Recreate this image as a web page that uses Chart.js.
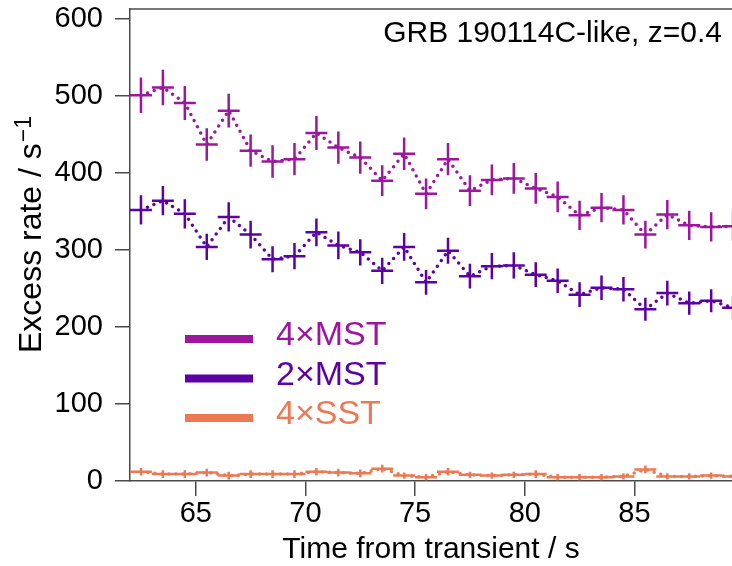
<!DOCTYPE html>
<html lang="en">
<head>
<meta charset="UTF-8" />
<title>GRB 190114C-like excess rate</title>
<script src="https://cdn.jsdelivr.net/npm/chart.js"></script>
<style>
  html, body { margin: 0; padding: 0; background: #ffffff; }
  #wrap { width: 732px; height: 566px; }
</style>
</head>
<body>
<div id="wrap"><canvas id="chart" width="732" height="566"></canvas></div>
<script>
  // bin centres, s (1 s bins)
  const times = [62.5, 63.5, 64.5, 65.5, 66.5, 67.5, 68.5, 69.5, 70.5, 71.5, 72.5, 73.5, 74.5, 75.5,
                 76.5, 77.5, 78.5, 79.5, 80.5, 81.5, 82.5, 83.5, 84.5, 85.5, 86.5, 87.5, 88.5, 89.5];
  const binWidth = 1;

  const mst4 = [501, 511, 491, 437, 481, 429, 415, 418, 452, 433, 420, 390, 425, 373,
                418, 377, 391, 393, 380, 369, 345, 355, 352, 320, 346, 332, 330, 331];
  const mst4Err = [23, 23, 22, 21, 22, 21, 21, 21, 22, 21, 21, 20, 21, 20,
                   21, 20, 20, 20, 20, 20, 19, 19, 19, 18, 19, 19, 19, 19];

  const mst2 = [352, 364, 347, 304, 343, 320, 288, 292, 323, 306, 297, 273, 304, 258,
                299, 266, 279, 280, 268, 260, 242, 251, 249, 223, 244, 231, 234, 225];
  const mst2Err = [19, 19, 19, 17, 19, 18, 17, 17, 18, 18, 17, 17, 18, 16,
                   17, 16, 17, 17, 16, 16, 16, 16, 16, 15, 16, 15, 15, 15];

  const sst4 = [12, 9, 9, 11, 7, 9, 9, 9, 12, 11, 10, 16, 7, 5,
                12, 8, 7, 8, 9, 5, 5, 5, 6, 15, 6, 6, 7, 6];
  const sst4Err = [5, 5, 5, 5, 5, 5, 5, 5, 5, 5, 5, 5, 4, 4,
                   5, 4, 4, 4, 5, 4, 4, 4, 4, 5, 4, 4, 4, 4];

  const xTicks = [65, 70, 75, 80, 85];
  const yTicks = [0, 100, 200, 300, 400, 500, 600];

  const seriesNames = ["4×MST", "2×MST", "4×SST"];
  const seriesColors = ["#9c179e", "#5c01a6", "#ed7953"];
  const seriesValues = [mst4, mst2, sst4];
  const seriesErrors = [mst4Err, mst2Err, sst4Err];

  const FONT = "'Liberation Sans', Arial, Helvetica, sans-serif";
  const AXIS = "#4a4a4a";

  // error crosses: horizontal bar = bin width, vertical bar = error
  const errorCrosses = {
    id: "errorCrosses",
    afterDatasetsDraw(chart) {
      const { ctx, chartArea: a, scales: { x, y } } = chart;
      ctx.save();
      ctx.beginPath();
      ctx.rect(a.left, a.top, a.right - a.left, a.bottom - a.top);
      ctx.clip();
      ctx.lineWidth = 2.5;
      seriesValues.forEach((vals, s) => {
        ctx.strokeStyle = seriesColors[s];
        ctx.beginPath();
        vals.forEach((v, i) => {
          const t = times[i], e = seriesErrors[s][i];
          const px = x.getPixelForValue(t), py = y.getPixelForValue(v);
          ctx.moveTo(x.getPixelForValue(t - binWidth / 2), py);
          ctx.lineTo(x.getPixelForValue(t + binWidth / 2), py);
          ctx.moveTo(px, y.getPixelForValue(v - e));
          ctx.lineTo(px, y.getPixelForValue(v + e));
        });
        ctx.stroke();
      });
      ctx.restore();
    }
  };

  // frame top, label, legend, y title
  const decorations = {
    id: "decorations",
    afterDraw(chart) {
      const { ctx, chartArea: a } = chart;
      ctx.save();
      ctx.strokeStyle = AXIS;
      ctx.lineWidth = 1.5;
      ctx.beginPath();
      ctx.moveTo(a.left, a.top);
      ctx.lineTo(a.right, a.top);
      ctx.stroke();

      ctx.fillStyle = "#000";
      ctx.font = "30px " + FONT;
      ctx.textAlign = "right";
      ctx.textBaseline = "alphabetic";
      ctx.fillText("GRB 190114C-like, z=0.4", a.right - 10, a.top + 33);

      // legend
      ctx.textAlign = "left";
      ctx.font = "34px " + FONT;
      seriesNames.forEach((name, i) => {
        const ly = a.top + 330 + i * 39.5;
        ctx.strokeStyle = seriesColors[i];
        ctx.lineWidth = 8;
        ctx.beginPath();
        ctx.moveTo(a.left + 55, ly);
        ctx.lineTo(a.left + 123, ly);
        ctx.stroke();
        ctx.fillStyle = seriesColors[i];
        ctx.fillText(name, a.left + 146, ly + 6);
      });

      // y axis title with superscript
      ctx.fillStyle = "#000";
      ctx.translate(41, 353);
      ctx.rotate(-Math.PI / 2);
      ctx.font = "32px " + FONT;
      const base = "Excess rate / s";
      ctx.fillText(base, 0, 0);
      const w = ctx.measureText(base).width;
      ctx.font = "23px " + FONT;
      ctx.fillText("\u22121", w + 1, -10);
      ctx.restore();
    }
  };

  new Chart(document.getElementById("chart"), {
    type: "line",
    data: {
      datasets: seriesValues.map((vals, s) => ({
        label: seriesNames[s],
        data: vals.map((v, i) => ({ x: times[i], y: v })),
        borderColor: seriesColors[s],
        backgroundColor: seriesColors[s],
        borderWidth: 3.5,
        borderDash: [0, 7],
        borderCapStyle: "round",
        pointRadius: 0,
        tension: 0,
        fill: false
      }))
    },
    options: {
      responsive: false,
      animation: false,
      devicePixelRatio: 1,
      layout: { padding: { top: 9, right: 0, left: 0, bottom: 0 } },
      plugins: {
        legend: { display: false },
        tooltip: { enabled: false }
      },
      scales: {
        x: {
          type: "linear",
          min: 62,
          max: 89.45,
          afterBuildTicks: s => { s.ticks = xTicks.map(v => ({ value: v })); },
          afterFit: s => { s.height = 85; s.paddingLeft = 0; s.paddingRight = 0; },
          grid: { drawOnChartArea: false, drawTicks: true, tickLength: 15, color: AXIS, lineWidth: 1.5 },
          border: { display: true, color: AXIS, width: 1.5 },
          ticks: { color: "#000", font: { family: FONT, size: 29 }, padding: 1, maxRotation: 0, autoSkip: false },
          title: {
            display: true,
            text: "Time from transient / s",
            color: "#000",
            font: { family: FONT, size: 30, lineHeight: 1.1 },
            padding: 0
          }
        },
        y: {
          min: 0,
          max: 613,
          afterBuildTicks: s => { s.ticks = yTicks.map(v => ({ value: v })); },
          afterFit: s => { s.width = 130; s.paddingTop = 0; s.paddingBottom = 0; },
          grid: { drawOnChartArea: false, drawTicks: true, tickLength: 15, color: AXIS, lineWidth: 1.5 },
          border: { display: true, color: AXIS, width: 1.5 },
          ticks: { color: "#000", font: { family: FONT, size: 29 }, padding: 12 }
        }
      }
    },
    plugins: [errorCrosses, decorations]
  });
</script>
</body>
</html>
